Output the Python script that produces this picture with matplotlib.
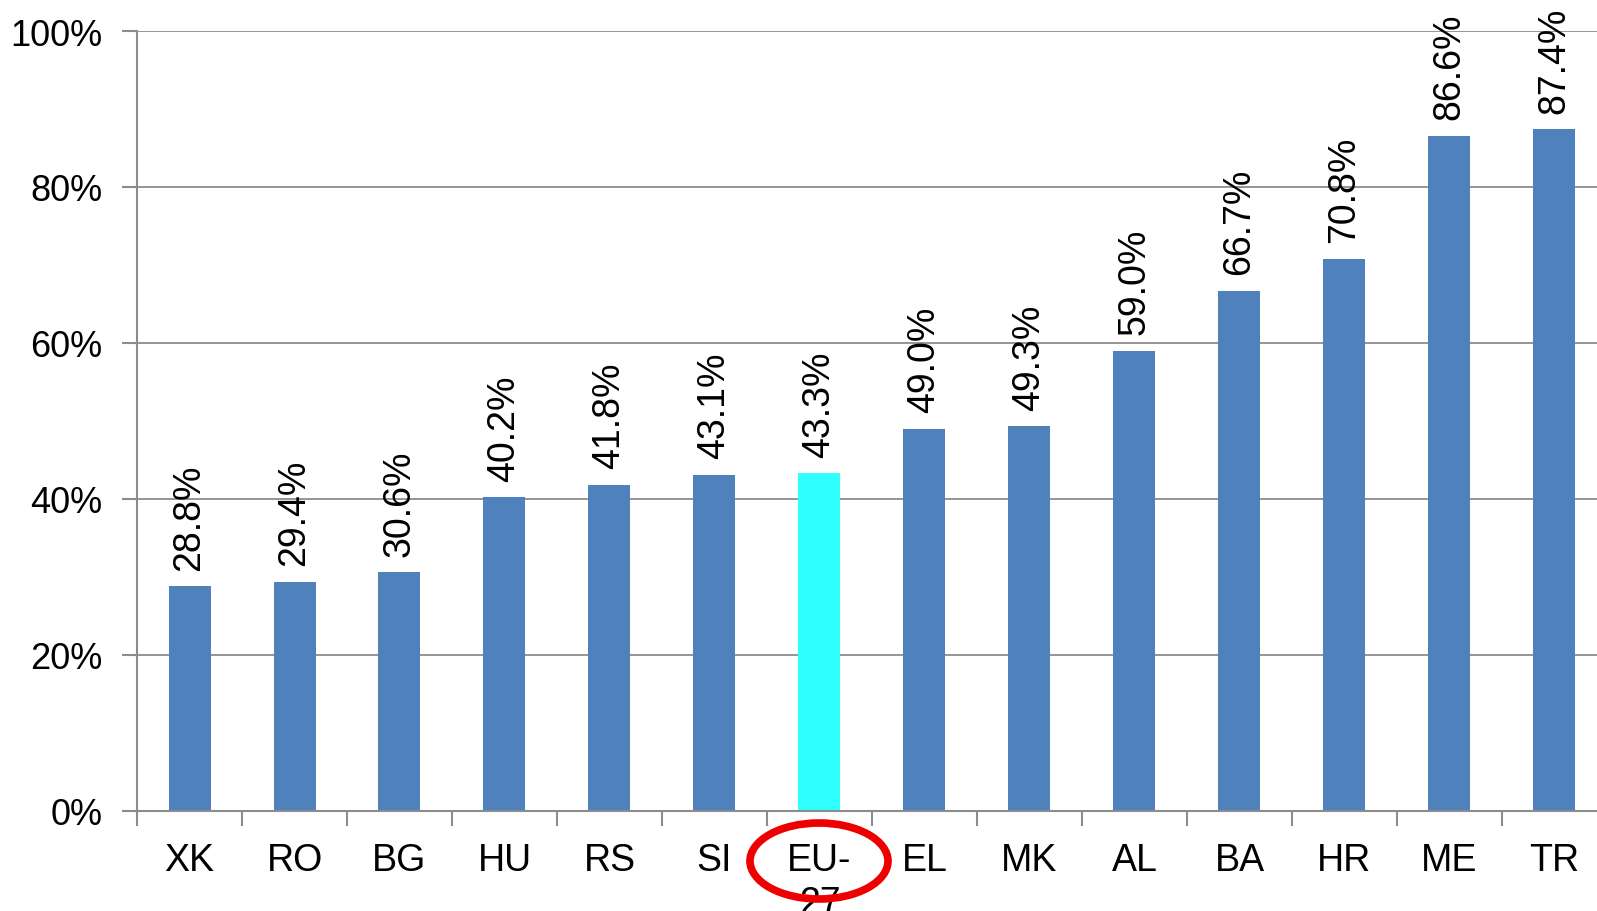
import numpy as np
import matplotlib
matplotlib.use("Agg")
from matplotlib import pyplot as plt
from matplotlib.patches import Ellipse

# data
countries = ['XK', 'RO', 'BG', 'HU', 'RS', 'SI', 'EU-\n27', 'EL', 'MK',
             'AL', 'BA', 'HR', 'ME', 'TR']
shares = [28.8, 29.4, 30.6, 40.2, 41.8, 43.1, 43.3, 49.0, 49.3,
          59.0, 66.7, 70.8, 86.6, 87.4]
highlight = 'EU-\n27'

plt.rcParams['font.family'] = ['Liberation Sans', 'DejaVu Sans']

W, H = 1597, 912
fig = plt.figure(figsize=(W / 100, H / 100), dpi=100)
# axes run past the right edge, as in the original slide
x0, x1 = 137, 137 + 14 * 105
y0, y1 = 812, 32
ax = fig.add_axes([x0 / W, (H - y0) / H, (x1 - x0) / W, (y0 - y1) / H])

blue = '#4F81BD'
cyan = '#2EFFFF'
grey = '#8C8C8C'

x = np.arange(len(countries))
vals = np.array(shares) / 100
colors = [cyan if c == highlight else blue for c in countries]
ax.bar(x, vals, width=0.4, color=colors, zorder=2)

for xi, v in zip(x, vals):
    ax.annotate(f'{v * 100:.1f}%', (xi, v), xytext=(0, 12),
                textcoords='offset points', rotation=90, ha='center',
                va='bottom', fontsize=27)

ax.set_xlim(-0.5, len(countries) - 0.5)
ax.set_ylim(0, 1)
ax.set_yticks(np.arange(0, 1.01, 0.2))
ax.set_yticklabels([f'{int(round(t * 100))}%' for t in np.arange(0, 1.01, 0.2)],
                   fontsize=26)
ax.set_xticks(x)
ax.set_xticklabels(countries, fontsize=27, linespacing=1.25, va='top')
ax.set_xticks(np.arange(-0.5, len(countries)), minor=True)
ax.tick_params(axis='x', which='major', length=0, pad=22)
ax.tick_params(axis='x', which='minor', length=11, width=1.5, color=grey)
ax.tick_params(axis='y', length=11, width=1.5, color=grey, pad=14)

ax.grid(axis='y', color=grey, linewidth=1.3, zorder=0)
ax.set_axisbelow(True)
for s in ['top', 'right']:
    ax.spines[s].set_visible(False)
for s in ['left', 'bottom']:
    ax.spines[s].set_color(grey)
    ax.spines[s].set_linewidth(1.5)

# red ring around the EU-27 label
ring = Ellipse((819 / W, (H - 862) / H), 138 / W, 76 / H,
               transform=fig.transFigure, fill=False, edgecolor='#EE0000',
               linewidth=5.5, zorder=5)
fig.add_artist(ring)

fig.savefig('out.png', dpi=100)
